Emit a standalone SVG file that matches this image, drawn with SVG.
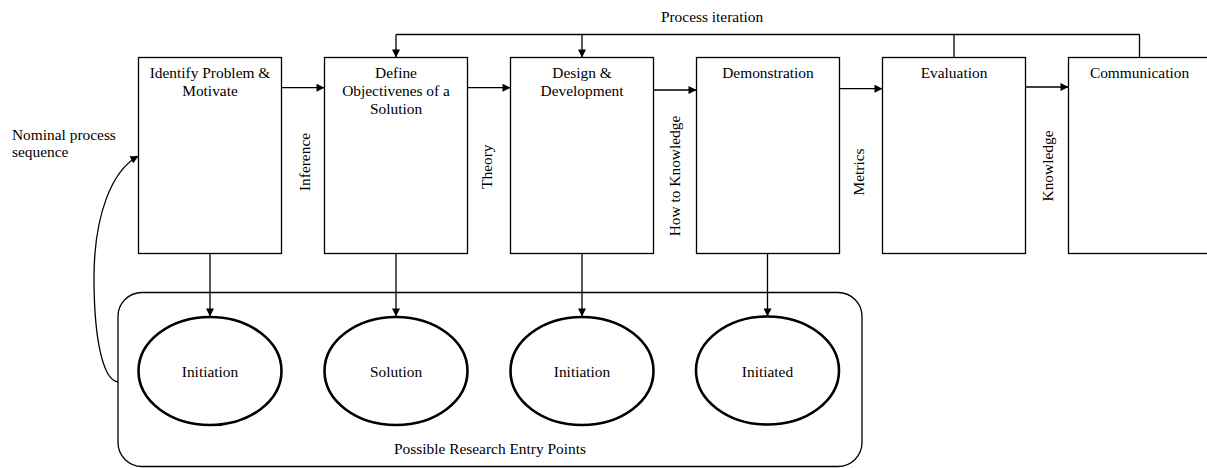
<svg xmlns="http://www.w3.org/2000/svg" width="1207" height="468" viewBox="0 0 1207 468">
  <defs>
    <marker id="arrow" viewBox="0 0 10 10" refX="10" refY="5" markerWidth="9" markerHeight="8" markerUnits="userSpaceOnUse" orient="auto">
      <path d="M0,0 L10,5 L0,10 Z" fill="#000"/>
    </marker>
    <style>
      text { font-family: "Liberation Serif", "Times New Roman", serif; font-size: 15.4px; fill: #000; }
      .mid { text-anchor: middle; }
      .box { fill: #fff; stroke: #000; stroke-width: 1.3; }
      .entry { fill: #fff; stroke: #000; stroke-width: 2.6; }
      .line { fill: none; stroke: #000; stroke-width: 1.3; }
      .arrow { fill: none; stroke: #000; stroke-width: 1.3; marker-end: url(#arrow); }
    </style>
  </defs>

  <rect width="1207" height="468" fill="#fff"/>

  <!-- Entry-point container -->
  <g id="entry-points">
    <rect x="118" y="292.5" width="744" height="174" rx="24" ry="24" class="line"/>
    <text x="490" y="454" class="mid">Possible Research Entry Points</text>
  </g>

  <!-- Connectors -->
  <g id="connectors">
    <!-- process iteration feedback -->
    <path d="M954,57.5 V34.5 M1139.5,57.5 V34.5 M396,34.5 H1139.5" class="line"/>
    <path d="M396,34.5 V57.5" class="arrow"/>
    <path d="M582,34.5 V57.5" class="arrow"/>
    <!-- nominal sequence -->
    <path d="M281.5,87.7 H324.5" class="arrow"/>
    <path d="M467.5,87.7 H510.5" class="arrow"/>
    <path d="M653.5,90 H696.5" class="arrow"/>
    <path d="M839.5,88.7 H882.5" class="arrow"/>
    <path d="M1025.5,87 H1068.5" class="arrow"/>
    <!-- entry points -->
    <path d="M210,253.5 V316.5" class="arrow"/>
    <path d="M396,253.5 V316.5" class="arrow"/>
    <path d="M582,253.5 V316.5" class="arrow"/>
    <path d="M767.5,253.5 V316.5" class="arrow"/>
    <!-- return loop to first activity -->
    <path d="M118,382 C102,380 94,335 94,278 C94,215 112,170 138.5,156" class="arrow"/>
  </g>

  <!-- Edge labels -->
  <g id="labels">
    <text x="712" y="22" class="mid">Process iteration</text>
    <text x="12" y="140">Nominal process</text>
    <text x="12" y="157">sequence</text>
    <text transform="translate(309.5,162) rotate(-90)" class="mid">Inference</text>
    <text transform="translate(492,166.7) rotate(-90)" class="mid">Theory</text>
    <text transform="translate(679.5,176) rotate(-90)" class="mid">How to Knowledge</text>
    <text transform="translate(864,172) rotate(-90)" class="mid">Metrics</text>
    <text transform="translate(1053,166) rotate(-90)" class="mid">Knowledge</text>
  </g>

  <!-- Activities -->
  <g id="identify">
    <rect x="138.5" y="57.5" width="143" height="196" class="box"/>
    <text x="210" y="78.3" class="mid">Identify Problem &amp;</text>
    <text x="210" y="96.3" class="mid">Motivate</text>
  </g>
  <g id="define">
    <rect x="324.5" y="57.5" width="143" height="196" class="box"/>
    <text x="396" y="78.3" class="mid">Define</text>
    <text x="396" y="96.3" class="mid">Objectivenes of a</text>
    <text x="396" y="114.3" class="mid">Solution</text>
  </g>
  <g id="design">
    <rect x="510.5" y="57.5" width="143" height="196" class="box"/>
    <text x="582" y="78.3" class="mid">Design &amp;</text>
    <text x="582" y="96.3" class="mid">Development</text>
  </g>
  <g id="demonstration">
    <rect x="696.5" y="57.5" width="143" height="196" class="box"/>
    <text x="768" y="78.3" class="mid">Demonstration</text>
  </g>
  <g id="evaluation">
    <rect x="882.5" y="57.5" width="143" height="196" class="box"/>
    <text x="954" y="78.3" class="mid">Evaluation</text>
  </g>
  <g id="communication">
    <rect x="1068.5" y="57.5" width="143" height="196" class="box"/>
    <text x="1139.5" y="78.3" class="mid">Communication</text>
  </g>

  <!-- Entry points -->
  <g id="entry-initiation-1">
    <ellipse cx="210" cy="371" rx="71.5" ry="54" class="entry"/>
    <text x="210" y="377" class="mid">Initiation</text>
  </g>
  <g id="entry-solution">
    <ellipse cx="396" cy="371" rx="71.5" ry="54" class="entry"/>
    <text x="396" y="377" class="mid">Solution</text>
  </g>
  <g id="entry-initiation-2">
    <ellipse cx="582" cy="371" rx="71.5" ry="54" class="entry"/>
    <text x="582" y="377" class="mid">Initiation</text>
  </g>
  <g id="entry-initiated">
    <ellipse cx="767.5" cy="370.5" rx="71.5" ry="54" class="entry"/>
    <text x="767.5" y="377" class="mid">Initiated</text>
  </g>
</svg>
